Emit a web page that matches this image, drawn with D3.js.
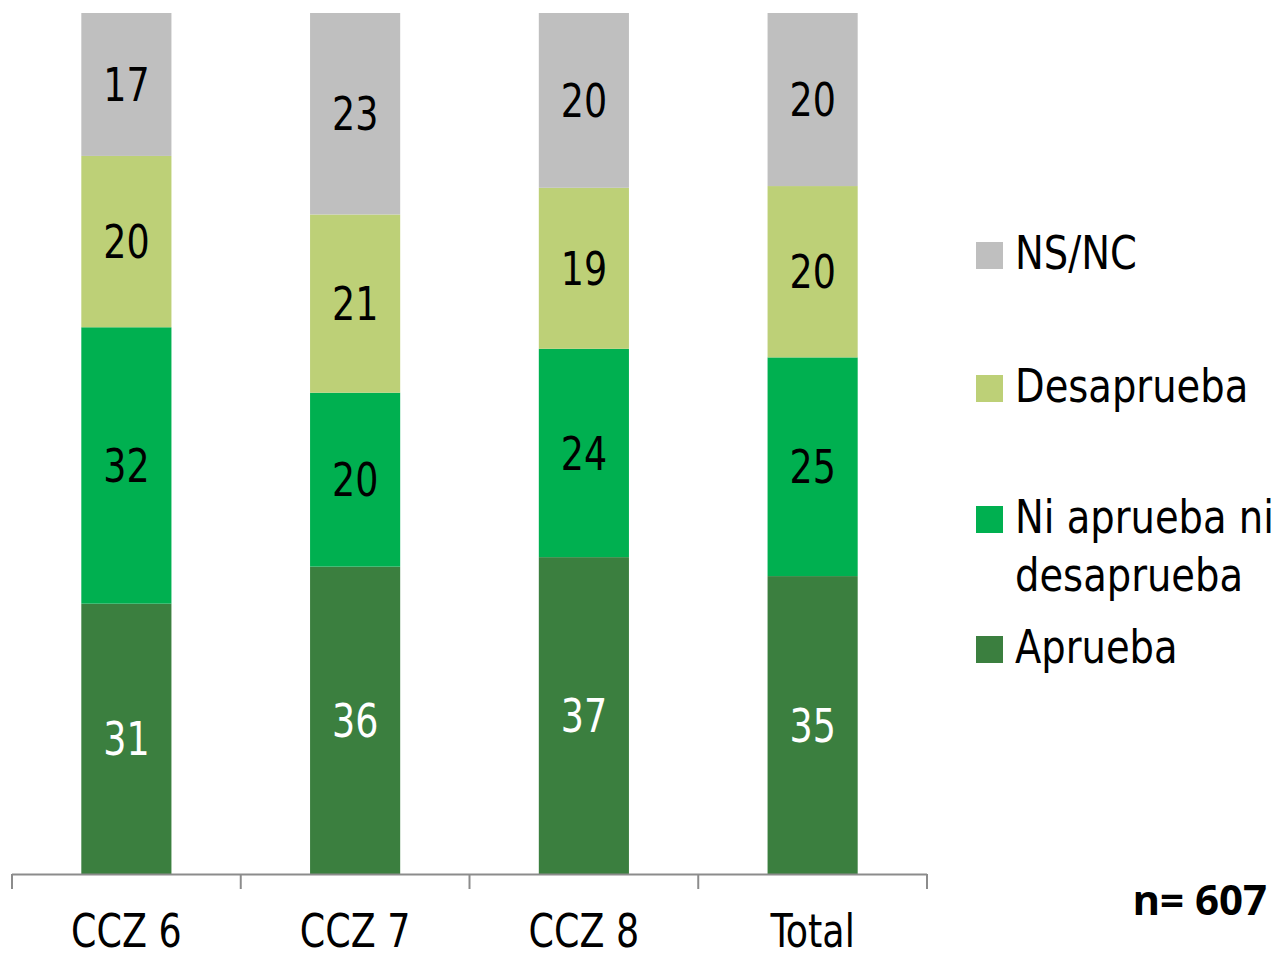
<!DOCTYPE html>
<html>
<head>
<meta charset="utf-8">
<script src="https://cdn.jsdelivr.net/npm/d3@7"></script>
<style>
body { margin: 0; background: #fff; }
svg text { font-family: "Liberation Sans Narrow", "DejaVu Sans Condensed", sans-serif; }
</style>
</head>
<body>
<svg id="chart" width="1280" height="954"></svg>
<script>

var categories = ["CCZ 6", "CCZ 7", "CCZ 8", "Total"];
var series = ["Aprueba", "Ni aprueba ni desaprueba", "Desaprueba", "NS/NC"];
// percentages, shown rounded on the bars
var aprueba = [31.4, 35.7, 36.8, 34.6];
var ni_ni = [32.1, 20.2, 24.2, 25.4];
var desaprueba = [19.9, 20.7, 18.7, 19.9];
var nsnc = [16.6, 23.4, 20.3, 20.1];
var colors = ["#3B7F3F", "#00B050", "#BDD077", "#BFBFBF"];
var label_colors = ["#fff", "#000", "#000", "#000"];
var legend_lines = [["NS/NC"], ["Desaprueba"], ["Ni aprueba ni", "desaprueba"], ["Aprueba"]];
var legend_order = [3, 2, 1, 0];
var n_text = "n= 607";

var svg = d3.select("#chart");

// the original font is narrower than what we have, so squeeze horizontally
var put_text = function(sel, tx, ty, squeeze) {
    return sel.attr("transform", function(d, i) {
	return "translate(" + tx(d, i) + "," + ty(d, i) + ") scale(" + squeeze + ",1)";
    });
};

var x = d3.scaleBand().domain(categories).range([12, 927])
    .paddingInner(0.606).paddingOuter(0.303);
var y = d3.scaleLinear().domain([0, 100]).range([874, 13]);
var fmt = d3.format(".0f");

var rows = categories.map(function(c, i) {
    return { cat: c, s0: aprueba[i], s1: ni_ni[i], s2: desaprueba[i], s3: nsnc[i] };
});
var stack = d3.stack().keys(["s0", "s1", "s2", "s3"])(rows);

var layers = svg.selectAll(".layer")
    .data(stack)
    .enter().append("g")
    .attr("class", "layer")
    .attr("fill", function(d, i) { return colors[i]; });

layers.selectAll("rect")
    .data(function(d) { return d; })
    .enter().append("rect")
    .attr("x", function(d) { return x(d.data.cat); })
    .attr("width", x.bandwidth())
    .attr("y", function(d) { return y(d[1]); })
    .attr("height", function(d) { return y(d[0]) - y(d[1]); });

layers.each(function(layer, i) {
    var t = d3.select(this).selectAll("text")
	.data(layer)
	.enter().append("text")
	.attr("dy", "0.36em")
	.attr("text-anchor", "middle")
	.attr("font-size", 46)
	.attr("fill", label_colors[i])
	.text(function(d) { return fmt(d[1] - d[0]); });
    put_text(t,
	     function(d) { return x(d.data.cat) + x.bandwidth() / 2; },
	     function(d) { return (y(d[0]) + y(d[1])) / 2; }, 0.88);
});

// category axis with ticks between bars
var axis = svg.append("g").attr("class", "axis");
axis.append("line")
    .attr("x1", 12).attr("x2", 927)
    .attr("y1", y(0) + 0.5).attr("y2", y(0) + 0.5)
    .attr("stroke", "#8C8C8C").attr("stroke-width", 2);

var edges = categories.map(function(c) { return x(c) - x.step() * x.paddingInner() / 2; });
edges.push(927);
axis.selectAll(".tick")
    .data(edges)
    .enter().append("line")
    .attr("class", "tick")
    .attr("x1", function(d) { return d; }).attr("x2", function(d) { return d; })
    .attr("y1", y(0)).attr("y2", y(0) + 15)
    .attr("stroke", "#8C8C8C").attr("stroke-width", 2);

var cats = axis.selectAll(".cat")
    .data(categories)
    .enter().append("text")
    .attr("class", "cat")
    .attr("text-anchor", "middle")
    .attr("font-size", 46)
    .attr("fill", "#000")
    .text(function(d) { return d; });
put_text(cats, function(d) { return x(d) + x.bandwidth() / 2; }, function() { return 947; }, 0.88);

// legend
var legend_y = [269, 402, 533, 663];
var legend = svg.append("g").attr("class", "legend");
legend_order.forEach(function(si, k) {
    var g = legend.append("g");
    g.append("rect")
	.attr("x", 976).attr("y", legend_y[k] - 27)
	.attr("width", 27).attr("height", 27)
	.attr("fill", colors[si]);
    var t = g.selectAll("text")
	.data(legend_lines[k])
	.enter().append("text")
	.attr("font-size", 46)
	.attr("fill", "#000")
	.text(function(d) { return d; });
    put_text(t, function() { return 1015; }, function(d, j) { return legend_y[k] + j * 58; }, 0.93);
});

svg.append("text")
    .attr("x", 1267).attr("y", 915)
    .attr("text-anchor", "end")
    .attr("font-size", 42)
    .attr("font-weight", "bold")
    .style("font-family", "'Open Sans', sans-serif")
    .attr("fill", "#000")
    .text(n_text);

</script>
</body>
</html>
